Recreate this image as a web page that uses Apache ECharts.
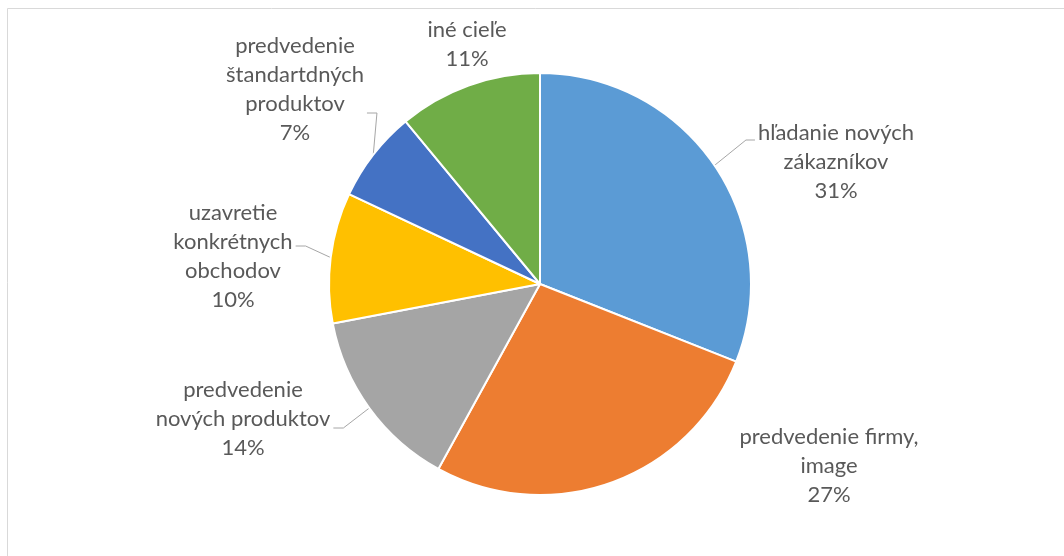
<!DOCTYPE html>
<html>
<head>
<meta charset="utf-8">
<script src="https://cdn.jsdelivr.net/npm/echarts@6/dist/echarts.min.js"></script>
<style>
html,body{margin:0;padding:0;background:#fff;}
#chart{width:1064px;height:556px;}
</style>
</head>
<body>
<div id="chart"></div>
<script>
const categories = [
  'hľadanie nových\nzákazníkov',
  'predvedenie firmy,\nimage',
  'predvedenie\nnových produktov',
  'uzavretie\nkonkrétnych\nobchodov',
  'predvedenie\nštandartdných\nproduktov',
  'iné cieľe'
];
const values = [31, 27, 14, 10, 7, 11];
const colors = ['#5B9BD5', '#ED7D31', '#A5A5A5', '#FFC000', '#4472C4', '#70AD47'];
const showLine = [true, false, true, true, true, false];
// label layout only: block centre, leader side, leader attach offset
const labelPos = [[836, 162], [829, 466], [243, 419], [233, 256], [295, 89], [467, 44]];
const lineSide = ['left', null, 'right', 'right', 'right', null];
const lineDy = [-22, 0, 9, -10, 24, 0];

const CX = 540, CY = 284, R = 211;
const total = values.reduce((a, b) => a + b, 0);
function midPoint(i) {
  let before = 0;
  for (let k = 0; k < i; k++) before += values[k];
  const frac = (before + values[i] / 2) / total;
  const ang = (90 - 360 * frac) * Math.PI / 180;
  return [CX + R * Math.cos(ang), CY - R * Math.sin(ang)];
}

const chart = echarts.init(document.getElementById('chart'), null, {renderer: 'canvas'});
chart.setOption({
  animation: false,
  backgroundColor: '#fff',
  graphic: [
    {type: 'line', shape: {x1: 7.5, y1: 8.5, x2: 1064, y2: 8.5}, style: {stroke: '#D9D9D9', lineWidth: 1}},
    {type: 'line', shape: {x1: 7.5, y1: 8.5, x2: 7.5, y2: 556}, style: {stroke: '#D9D9D9', lineWidth: 1}}
  ],
  series: [{
    type: 'pie',
    center: [CX, CY],
    radius: [0, R],
    startAngle: 90,
    clockwise: true,
    avoidLabelOverlap: false,
    itemStyle: {borderColor: '#fff', borderWidth: 2},
    label: {
      show: true,
      formatter: '{b}\n{d}%',
      color: '#595959',
      fontFamily: 'Lato',
      fontSize: 22,
      lineHeight: 29,
      align: 'center'
    },
    labelLine: {show: true, lineStyle: {color: '#A6A6A6', width: 1}},
    labelLayout: function (p) {
      const i = p.dataIndex;
      const pos = labelPos[i];
      const out = {x: pos[0], y: pos[1], align: 'center', verticalAlign: 'middle'};
      if (lineSide[i]) {
        const w = p.labelRect.width;
        const ay = pos[1] + lineDy[i];
        const edge = lineSide[i] === 'left' ? pos[0] - w / 2 - 3 : pos[0] + w / 2 + 3;
        const knee = lineSide[i] === 'left' ? edge - 9 : edge + 10;
        out.labelLinePoints = [midPoint(i), [knee, ay], [edge, ay]];
      }
      return out;
    },
    data: categories.map((c, i) => ({
      name: c,
      value: values[i],
      itemStyle: {color: colors[i]},
      labelLine: {show: showLine[i]}
    }))
  }]
});
</script>
</body>
</html>
